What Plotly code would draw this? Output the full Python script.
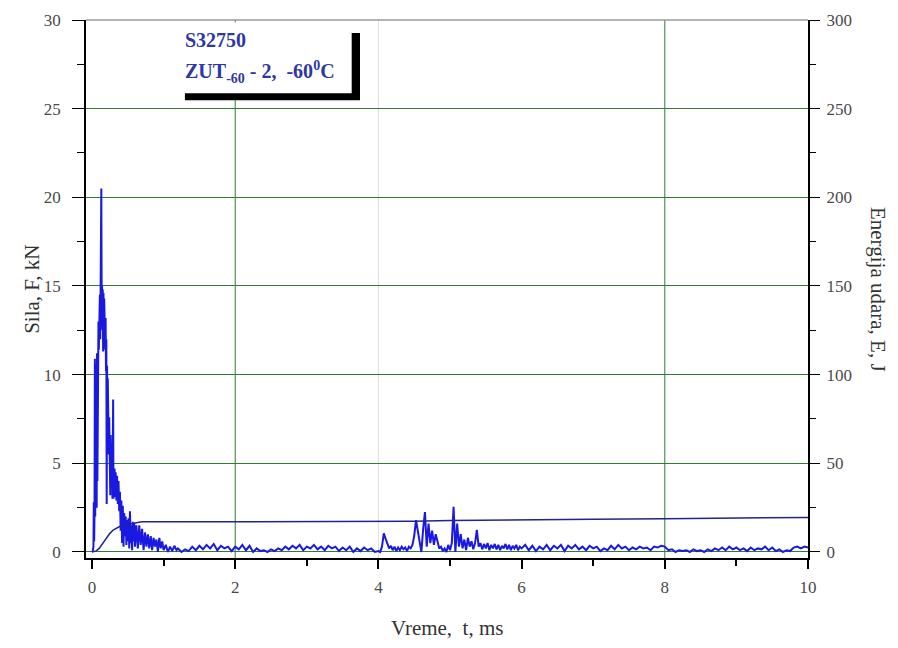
import plotly.graph_objects as go

# ---- Force signal, F (kN) vs time t (ms) ----
t_ms = [
    0.00, 0.01, 0.02, 0.025, 0.03, 0.035, 0.04, 0.045, 0.05, 0.055,
    0.06, 0.065, 0.07, 0.075, 0.08, 0.085, 0.09, 0.095, 0.10, 0.105,
    0.11, 0.115, 0.12, 0.125, 0.13, 0.135, 0.14, 0.145, 0.15, 0.155,
    0.16, 0.165, 0.17, 0.175, 0.18, 0.185, 0.19, 0.195, 0.20, 0.205,
    0.21, 0.215, 0.22, 0.225, 0.23, 0.235, 0.24, 0.245, 0.25, 0.255,
    0.26, 0.265, 0.27, 0.275, 0.28, 0.285, 0.29, 0.295, 0.30, 0.305,
    0.31, 0.315, 0.32, 0.33, 0.34, 0.35, 0.36, 0.37, 0.38, 0.39,
    0.40, 0.41, 0.42, 0.43, 0.44, 0.45, 0.46, 0.47, 0.48, 0.49,
    0.50, 0.51, 0.52, 0.53, 0.54, 0.55, 0.56, 0.57, 0.58, 0.59,
    0.60, 0.62, 0.64, 0.66, 0.68, 0.70, 0.72, 0.74, 0.76, 0.78,
    0.80, 0.82, 0.84, 0.86, 0.88, 0.90, 0.92, 0.94, 0.96, 0.98,
    1.00, 1.03, 1.06, 1.09, 1.12, 1.15, 1.18,
    1.20, 1.25, 1.30, 1.35, 1.40, 1.45,
    1.50, 1.55, 1.60, 1.65, 1.70, 1.75, 1.80, 1.85, 1.90, 1.95,
    2.00, 2.05, 2.10, 2.15, 2.20, 2.25, 2.30, 2.35, 2.40, 2.45,
    2.50, 2.55, 2.60, 2.65, 2.70, 2.75, 2.80, 2.85, 2.90, 2.95,
    3.00, 3.05, 3.10, 3.15, 3.20, 3.25, 3.30, 3.35, 3.40, 3.45,
    3.50, 3.55, 3.60, 3.65, 3.70, 3.75, 3.80, 3.85, 3.90, 3.95,
    4.000, 4.025, 4.050, 4.075, 4.100, 4.125, 4.150, 4.175, 4.200, 4.225,
    4.250, 4.275, 4.300, 4.325, 4.350, 4.375, 4.400, 4.425, 4.450, 4.475,
    4.500, 4.525, 4.550, 4.575, 4.600, 4.625, 4.650, 4.675, 4.700, 4.725,
    4.750, 4.775, 4.800, 4.825, 4.850, 4.875, 4.900, 4.925, 4.950, 4.975,
    5.000, 5.025, 5.050, 5.075, 5.100, 5.125, 5.150, 5.175, 5.200, 5.225,
    5.250, 5.275, 5.300, 5.325, 5.350, 5.375, 5.400, 5.425, 5.450, 5.475,
    5.500, 5.525, 5.550, 5.575, 5.600, 5.625, 5.650, 5.675, 5.700, 5.725,
    5.750, 5.775, 5.800, 5.825, 5.850, 5.875, 5.900, 5.925, 5.950, 5.975,
    6.00, 6.05, 6.10, 6.15, 6.20, 6.25, 6.30, 6.35, 6.40, 6.45,
    6.50, 6.55, 6.60, 6.65, 6.70, 6.75, 6.80, 6.85, 6.90, 6.95,
    7.00, 7.05, 7.10, 7.15, 7.20, 7.25, 7.30, 7.35, 7.40, 7.45,
    7.50, 7.55, 7.60, 7.65, 7.70, 7.75, 7.80, 7.85, 7.90, 7.95,
    8.00, 8.05, 8.10, 8.15, 8.20, 8.25, 8.30, 8.35, 8.40, 8.45,
    8.50, 8.55, 8.60, 8.65, 8.70, 8.75, 8.80, 8.85, 8.90, 8.95,
    9.00, 9.05, 9.10, 9.15, 9.20, 9.25, 9.30, 9.35, 9.40, 9.45,
    9.50, 9.55, 9.60, 9.65, 9.70, 9.75, 9.80, 9.85, 9.90, 9.95,
    10.00,
]

force_kN = [
    0.0, 0.05, 0.3, 2.8, 0.6, 2.2, 10.9, 2.0, 10.6, 3.0,
    10.9, 2.5, 11.2, 4.0, 10.8, 11.5, 13.0, 11.4, 13.3, 11.6,
    14.5, 12.0, 17.5, 13.5, 20.5, 14.0, 15.0, 12.5, 14.8, 11.3,
    14.6, 12.0, 14.3, 12.6, 13.9, 11.4, 13.2, 10.2, 12.0, 2.7,
    10.5, 8.0, 9.8, 6.8, 8.9, 5.5, 7.6, 4.0, 7.0, 3.2,
    6.6, 4.6, 6.2, 3.8, 5.8, 3.0, 5.6, 8.6, 3.0, 5.0,
    3.4, 4.7, 3.1, 4.5, 2.9, 4.3, 2.7, 4.0, 2.3, 3.4,
    1.2, 2.9, 0.5, 2.6, 0.3, 2.2, 0.9, 2.0, 0.4, 1.8,
    0.6, 1.9, 0.2, 2.3, 0.5, 1.5, 0.1, 1.7, 0.6, 1.6,
    0.3, 1.5, 0.2, 1.5, 0.4, 1.3, 0.1, 1.1, 0.3, 1.0,
    0.2, 0.9, 0.1, 0.8, 0.3, 0.7, 0.0, 0.8, 0.2, 0.6,
    0.1, 0.4, 0.0, 0.3, 0.05, 0.35, 0.1,
    0.2, 0.0, 0.15, 0.05, 0.3, 0.1,
    0.35, 0.15, 0.4, 0.2, 0.45, 0.1, 0.35, 0.2, 0.3, 0.05,
    0.3, 0.15, 0.4, 0.1, 0.35, 0.0, 0.2, 0.05, 0.1, 0.0,
    0.15, 0.05, 0.2, 0.1, 0.3, 0.15, 0.35, 0.2, 0.4, 0.1,
    0.3, 0.2, 0.4, 0.15, 0.3, 0.1, 0.35, 0.2, 0.3, 0.05,
    0.25, 0.1, 0.3, 0.0, 0.2, 0.05, 0.25, 0.1, 0.2, 0.0,
    0.05, 0.0, 0.3, 1.05, 0.75, 0.5, 0.2, 0.35, 0.1, 0.3,
    0.05, 0.25, 0.1, 0.3, 0.15, 0.25, 0.05, 0.3, 0.2, 0.4,
    0.9, 1.8, 1.2, 0.7, 0.0, 1.3, 2.25, 0.3, 1.6, 0.5,
    1.2, 0.4, 1.0, 0.6, 0.2, 0.3, 0.05, 0.2, 0.0, 0.4,
    0.1, 0.5, 2.55, 0.0, 1.6, 0.3, 1.0, 0.2, 0.7, 0.1,
    0.8, 0.3, 0.6, 0.15, 0.5, 1.25, 0.3, 0.5, 0.15, 0.45,
    0.2, 0.5, 0.1, 0.4, 0.2, 0.45, 0.15, 0.4, 0.1, 0.35,
    0.2, 0.45, 0.15, 0.4, 0.1, 0.35, 0.2, 0.4, 0.1, 0.3,
    0.2, 0.4, 0.1, 0.35, 0.05, 0.3, 0.15, 0.4, 0.1, 0.35,
    0.2, 0.4, 0.05, 0.35, 0.2, 0.4, 0.15, 0.3, 0.1, 0.35,
    0.2, 0.3, 0.05, 0.2, 0.1, 0.35, 0.15, 0.4, 0.2, 0.3,
    0.1, 0.25, 0.15, 0.3, 0.2, 0.25, 0.1, 0.3, 0.25, 0.35,
    0.3, 0.1, 0.15, 0.0, 0.1, 0.05, 0.1, 0.0, 0.15, 0.05,
    0.1, 0.0, 0.15, 0.05, 0.2, 0.1, 0.25, 0.1, 0.3, 0.15,
    0.25, 0.1, 0.2, 0.05, 0.25, 0.1, 0.2, 0.15, 0.3, 0.1,
    0.25, 0.05, 0.15, 0.0, 0.1, 0.05, 0.25, 0.3, 0.2, 0.3,
    0.25,
]

# ---- Impact energy, E (J) vs time t (ms) ----
t_energy_ms = [0.00, 0.03, 0.06, 0.10, 0.15, 0.20, 0.25, 0.30, 0.35, 0.40,
               0.45, 0.50, 0.60, 0.70, 1.00, 2.00, 3.00, 4.00, 4.50, 5.00,
               6.00, 7.00, 8.00, 9.00, 9.50, 10.00]
energy_J = [0.0, 0.1, 0.6, 2.0, 5.0, 8.0, 10.5, 12.5, 13.8, 14.6,
            15.1, 15.6, 16.3, 17.0, 17.1, 17.0, 17.0, 17.0, 17.3, 17.8,
            18.3, 18.5, 18.7, 19.0, 19.3, 19.5]

x_ticks = [0, 2, 4, 6, 8, 10]
F_ticks = [0, 5, 10, 15, 20, 25, 30]
E_ticks = [0, 50, 100, 150, 200, 250, 300]
vgrid_green = [2, 8]
vgrid_gray = [4]

FONT = "Liberation Serif, Times New Roman, serif"
TICK_COLOR = "#4a4a4a"
GRID_GREEN = "rgb(46,125,50)"

fig = go.Figure()
fig.add_trace(go.Scatter(x=t_ms, y=force_kN, mode="lines",
                         line=dict(color="rgb(25,25,225)", width=2),
                         showlegend=False, yaxis="y"))
fig.add_trace(go.Scatter(x=t_energy_ms, y=energy_J, mode="lines",
                         line=dict(color="rgb(35,35,150)", width=1.5),
                         showlegend=False, yaxis="y2"))

tickfont = dict(family=FONT, size=17, color=TICK_COLOR)

# The page body has an 8px margin, so the figure is laid out 8px smaller
fig.update_layout(
    width=890, height=640,
    margin=dict(l=78, r=90, t=12, b=90, autoexpand=False),
    paper_bgcolor="white", plot_bgcolor="white",
    font=dict(family=FONT),
    xaxis=dict(range=[-0.084, 10.0], tickvals=x_ticks, ticks="outside",
               ticklen=9, tickwidth=2, tickcolor="black", automargin=False,
               ticklabelstandoff=4,
               minor=dict(dtick=1, tick0=0, ticks="outside", ticklen=6,
                          tickcolor="black", showgrid=False),
               showline=True, linecolor="black", linewidth=2,
               showgrid=False, zeroline=False, tickfont=tickfont),
    yaxis=dict(range=[-0.34, 30], tickvals=F_ticks, ticks="outside",
               ticklen=12, tickwidth=1, tickcolor="black", automargin=False,
               ticklabelstandoff=8,
               minor=dict(dtick=2.5, tick0=0, ticks="outside", ticklen=7,
                          tickcolor="black", showgrid=False),
               showline=True, linecolor="black", linewidth=1.5,
               showgrid=True, gridcolor=GRID_GREEN, gridwidth=1,
               zeroline=False, tickfont=tickfont),
    yaxis2=dict(range=[-3.4, 300], tickvals=E_ticks, overlaying="y",
                side="right", ticks="outside", ticklen=10, tickwidth=1,
                tickcolor="black", automargin=False, ticklabelstandoff=3,
                minor=dict(dtick=25, tick0=0, ticks="outside", ticklen=6,
                           tickcolor="black", showgrid=False),
                showline=True, linecolor="black", linewidth=2,
                showgrid=False, zeroline=False, tickfont=tickfont),
)

shapes = []
for xv in vgrid_green:
    shapes.append(dict(type="line", xref="x", yref="paper", x0=xv, x1=xv,
                       y0=0, y1=1, line=dict(color=GRID_GREEN, width=1),
                       layer="below"))
for xv in vgrid_gray:
    shapes.append(dict(type="line", xref="x", yref="paper", x0=xv, x1=xv,
                       y0=0, y1=1, line=dict(color="#dddddd", width=1),
                       layer="below"))
# top border
shapes.append(dict(type="line", xref="paper", yref="paper", x0=0, x1=1,
                   y0=1, y1=1, line=dict(color="#9a9a9a", width=1.5),
                   layer="above"))
# label box with shadow
shapes.append(dict(type="rect", xref="paper", yref="paper",
                   x0=0.137, x1=0.3795, y0=0.851, y1=0.976,
                   fillcolor="black", line=dict(width=0), layer="above"))
shapes.append(dict(type="rect", xref="paper", yref="paper",
                   x0=0.127, x1=0.368, y0=0.864, y1=0.996,
                   fillcolor="white", line=dict(width=0), layer="above"))
fig.update_layout(shapes=shapes)

label_color = "rgb(45,55,165)"
annotations = [
    dict(text="<b>S32750</b>", xref="paper", yref="paper",
         x=0.134, y=0.963, xanchor="left", yanchor="middle", showarrow=False,
         font=dict(family=FONT, size=20, color=label_color)),
    dict(text="<b>ZUT<sub>-60</sub> - 2,  -60<sup>0</sup>C</b>", xref="paper",
         yref="paper", x=0.134, y=0.903, xanchor="left", yanchor="middle",
         showarrow=False, font=dict(family=FONT, size=20, color=label_color)),
    dict(text="Sila, F, kN", xref="paper", yref="paper", x=-0.075, y=0.5,
         xanchor="center", yanchor="middle", textangle=-90, showarrow=False,
         font=dict(family=FONT, size=21, color="#333333")),
    dict(text="Energija udara, E, J", xref="paper", yref="paper", x=1.097,
         y=0.5, xanchor="center", yanchor="middle", textangle=90,
         showarrow=False, font=dict(family=FONT, size=21, color="#333333")),
    dict(text="Vreme,  t, ms", xref="paper", yref="paper", x=0.5, y=-0.13,
         xanchor="center", yanchor="middle", showarrow=False,
         font=dict(family=FONT, size=21, color="#333333")),
]
fig.update_layout(annotations=annotations)

fig.write_html("out.html")
